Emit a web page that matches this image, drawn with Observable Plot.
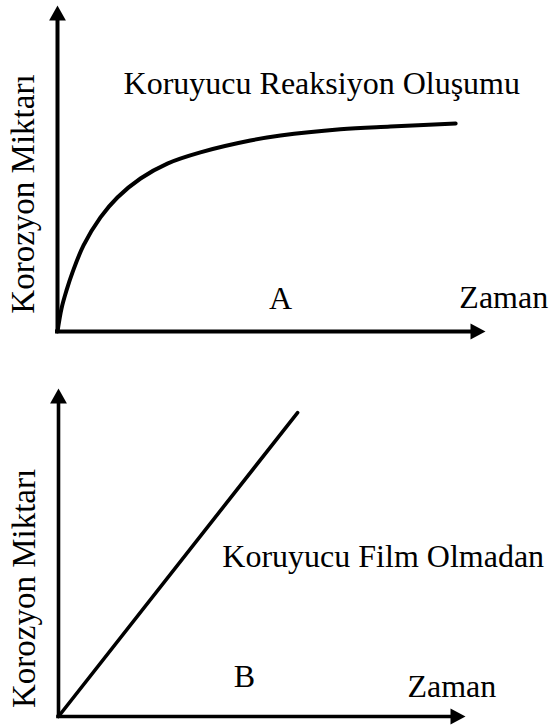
<!DOCTYPE html>
<html>
<head>
<meta charset="utf-8">
<script src="https://cdn.jsdelivr.net/npm/d3@7"></script>
<script src="https://cdn.jsdelivr.net/npm/@observablehq/plot@0.6"></script>
<style>
  html, body { margin: 0; padding: 0; background: #fff; }
  #charts svg { display: block; }
</style>
</head>
<body>
<div id="charts"></div>
<script>
// Panel A: corrosion with a protective reaction layer (saturating curve)
const curveTime   = [0, 0.97, 2.18, 3.63, 6.3, 10.4, 14.5, 20.1, 26.6, 34.6, 46.7, 54.0, 68.5, 80.6, 96.4];
const curveAmount = [0, 7.4, 13.2, 19.0, 27.7, 36.7, 43.1, 49.2, 54.0, 57.6, 61.4, 63.0, 65.0, 65.9, 66.9];

// Panel B: corrosion without a protective film (linear growth)
const lineTime   = [0, 61.0];
const lineAmount = [0, 97.1];

// Axis extent (arrowheads sit at the ends)
const axisMax = 100;

// Texts
const yTitle = "Korozyon Miktarı";
const xTitle = "Zaman";
const panelLabels = ["A", "B"];
const panelTitles = ["Koruyucu Reaksiyon Oluşumu", "Koruyucu Film Olmadan"];

const FONT = "'Liberation Serif', 'Times New Roman', 'DejaVu Serif', serif";
const FS = 32;
const FS_Y = 33;

// Filled arrowheads whose base sits at the anchor point
const headLen = 15;
const headR = headLen / Math.sqrt(Math.PI);
const headUp = {draw(ctx, size) {
  const l = Math.sqrt(size), w = l * 0.56;
  ctx.moveTo(0, -l); ctx.lineTo(w, 0); ctx.lineTo(-w, 0); ctx.closePath();
}};
const headRight = {draw(ctx, size) {
  const l = Math.sqrt(size), w = l * 0.53;
  ctx.moveTo(l, 0); ctx.lineTo(0, -w); ctx.lineTo(0, w); ctx.closePath();
}};

function axesMarks(sw) {
  return [
    Plot.ruleY([0], {x1: 0, x2: axisMax, stroke: "black", strokeWidth: sw, strokeLinecap: "square"}),
    Plot.ruleX([0], {y1: 0, y2: axisMax, stroke: "black", strokeWidth: sw, strokeLinecap: "square"}),
    Plot.dot([[axisMax, 0]], {x: d => d[0], y: d => d[1], symbol: headRight, r: headR, fill: "black", stroke: "none"}),
    Plot.dot([[0, axisMax]], {x: d => d[0], y: d => d[1], symbol: headUp, r: headR, fill: "black", stroke: "none"})
  ];
}

function label(x, y, text, opts = {}) {
  return Plot.text([text], {
    x: () => x, y: () => y, text: d => d,
    fontFamily: FONT, fontSize: FS, fill: "black",
    lineAnchor: "bottom", textAnchor: "start", ...opts
  });
}

const curveData = curveTime.map((t, i) => ({t, v: curveAmount[i]}));
const lineData = lineTime.map((t, i) => ({t, v: lineAmount[i]}));

const chartA = Plot.plot({
  width: 549, height: 360, margin: 0,
  x: {domain: [0, axisMax], range: [57, 470], axis: null},
  y: {domain: [0, axisMax], range: [331, 20], axis: null},
  style: {background: "white", overflow: "visible"},
  marks: [
    ...axesMarks(4),
    Plot.line(curveData, {x: "t", y: "v", curve: "catmull-rom", stroke: "black", strokeWidth: 4}),
    label(-5.6, 44.2, yTitle, {rotate: -90, textAnchor: "middle", fontSize: FS_Y}),
    label(16.0, 76.5, panelTitles[0]),
    label(54.0, 7.1, panelLabels[0], {textAnchor: "middle"}),
    label(97.3, 7.4, xTitle)
  ]
});

const chartB = Plot.plot({
  width: 549, height: 366, margin: 0,
  x: {domain: [0, axisMax], range: [58, 450], axis: null},
  y: {domain: [0, axisMax], range: [356, 43], axis: null},
  style: {background: "white", overflow: "visible"},
  marks: [
    ...axesMarks(3.6),
    Plot.line(lineData, {x: "t", y: "v", stroke: "black", strokeWidth: 3.6}),
    label(-5.9, 40.9, yTitle, {rotate: -90, textAnchor: "middle", fontSize: FS_Y}),
    label(41.8, 47.9, panelTitles[1]),
    label(47.4, 9.3, panelLabels[1], {textAnchor: "middle"}),
    label(89.0, 6.1, xTitle)
  ]
});

const root = document.getElementById("charts");
root.appendChild(chartA);
root.appendChild(chartB);
</script>
</body>
</html>
